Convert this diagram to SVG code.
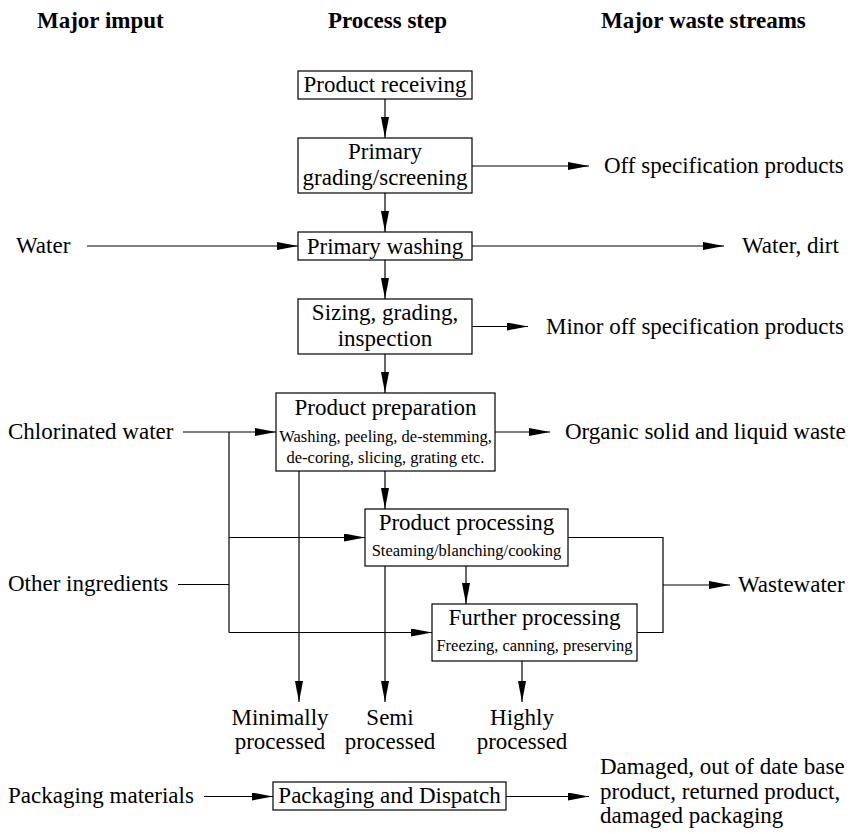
<svg xmlns="http://www.w3.org/2000/svg" width="853" height="834" viewBox="0 0 853 834">
  <defs>
    <style>
      .bg { fill: #ffffff; }
      .box { fill: #ffffff; stroke: #000000; stroke-width: 1.2; }
      .ln { fill: none; stroke: #000000; stroke-width: 1.2; }
      .ar { marker-end: url(#ah); }
      text { font-family: "Liberation Serif", "Times New Roman", serif; font-size: 23px; fill: #000000; }
      .c { text-anchor: middle; }
      .hd { font-weight: bold; }
      .sm { font-size: 16.5px; }
    </style>
    <marker id="ah" markerUnits="userSpaceOnUse" markerWidth="21" markerHeight="8" viewBox="0 0 21 8" refX="21" refY="4" orient="auto">
      <path d="M0,0 L21,4 L0,8 Z" fill="#000000"/>
    </marker>
  </defs>

  <rect class="bg" x="0" y="0" width="853" height="834"/>

  <!-- column headings -->
  <g id="headings">
    <text class="hd" x="37" y="28">Major imput</text>
    <text class="hd" x="328" y="28">Process step</text>
    <text class="hd" x="601" y="28">Major waste streams</text>
  </g>

  <!-- connectors -->
  <g id="connectors">
    <!-- main process chain -->
    <line class="ln ar" x1="385" y1="99" x2="385" y2="138"/>
    <line class="ln ar" x1="385" y1="193" x2="385" y2="232"/>
    <line class="ln ar" x1="385" y1="260" x2="385" y2="299"/>
    <line class="ln ar" x1="385" y1="354" x2="385" y2="393"/>
    <line class="ln ar" x1="385" y1="471" x2="385" y2="509"/>
    <line class="ln ar" x1="466" y1="566" x2="466" y2="604"/>

    <!-- waste outputs -->
    <line class="ln ar" x1="472" y1="166" x2="589" y2="166"/>
    <line class="ln ar" x1="472" y1="246" x2="724" y2="246"/>
    <line class="ln ar" x1="472" y1="326.5" x2="528" y2="326.5"/>
    <line class="ln ar" x1="495" y1="432" x2="550" y2="432"/>

    <!-- inputs -->
    <line class="ln ar" x1="87" y1="246" x2="298" y2="246"/>
    <line class="ln ar" x1="183" y1="432" x2="276" y2="432"/>
    <line class="ln" x1="229" y1="432" x2="229" y2="632.5"/>
    <line class="ln ar" x1="229" y1="537.5" x2="365" y2="537.5"/>
    <line class="ln" x1="178" y1="584.5" x2="229" y2="584.5"/>
    <line class="ln ar" x1="229" y1="632.5" x2="432" y2="632.5"/>

    <!-- product outlets -->
    <line class="ln ar" x1="299" y1="471" x2="299" y2="702"/>
    <line class="ln ar" x1="385" y1="566" x2="385" y2="702"/>
    <line class="ln ar" x1="522" y1="661" x2="522" y2="702"/>

    <!-- wastewater collector -->
    <polyline class="ln" points="568,537.5 663,537.5 663,632.5 637,632.5"/>
    <line class="ln ar" x1="663" y1="585" x2="730" y2="585"/>

    <!-- packaging row -->
    <line class="ln ar" x1="204" y1="796.5" x2="273" y2="796.5"/>
    <line class="ln ar" x1="506" y1="796.5" x2="589" y2="796.5"/>
  </g>

  <!-- process steps -->
  <g id="product-receiving">
    <rect class="box" x="298" y="71" width="174" height="28"/>
    <text class="c" x="385" y="92">Product receiving</text>
  </g>

  <g id="primary-grading">
    <rect class="box" x="298" y="138" width="174" height="55"/>
    <text class="c" x="385" y="158.5">Primary</text>
    <text class="c" x="385" y="185">grading/screening</text>
  </g>

  <g id="primary-washing">
    <rect class="box" x="298" y="232" width="174" height="28"/>
    <text class="c" x="385" y="253.5">Primary washing</text>
  </g>

  <g id="sizing-grading">
    <rect class="box" x="298" y="299" width="174" height="55"/>
    <text class="c" x="385" y="320">Sizing, grading,</text>
    <text class="c" x="385" y="346">inspection</text>
  </g>

  <g id="product-preparation">
    <rect class="box" x="276" y="393" width="219" height="78"/>
    <text class="c" x="385.5" y="415">Product preparation</text>
    <text class="c sm" x="385.5" y="441.5">Washing, peeling, de-stemming,</text>
    <text class="c sm" x="385.5" y="463">de-coring, slicing, grating etc.</text>
  </g>

  <g id="product-processing">
    <rect class="box" x="365" y="509" width="203" height="57"/>
    <text class="c" x="466.5" y="530">Product processing</text>
    <text class="c sm" x="466.5" y="555.5">Steaming/blanching/cooking</text>
  </g>

  <g id="further-processing">
    <rect class="box" x="432" y="604" width="205" height="57"/>
    <text class="c" x="534.5" y="625">Further processing</text>
    <text class="c sm" x="534.5" y="650.5">Freezing, canning, preserving</text>
  </g>

  <g id="packaging-dispatch">
    <rect class="box" x="273" y="782" width="233" height="28"/>
    <text class="c" x="389.5" y="802.5">Packaging and Dispatch</text>
  </g>

  <!-- inputs -->
  <g id="input-water"><text x="16" y="253">Water</text></g>
  <g id="input-chlorinated-water"><text x="8" y="439">Chlorinated water</text></g>
  <g id="input-other-ingredients"><text x="8" y="591">Other ingredients</text></g>
  <g id="input-packaging-materials"><text x="8" y="802.5">Packaging materials</text></g>

  <!-- waste streams -->
  <g id="waste-off-spec"><text x="604" y="173">Off specification products</text></g>
  <g id="waste-water-dirt"><text x="742" y="253">Water, dirt</text></g>
  <g id="waste-minor-off-spec"><text x="546" y="333.5">Minor off specification products</text></g>
  <g id="waste-organic"><text x="565" y="439">Organic solid and liquid waste</text></g>
  <g id="waste-wastewater"><text x="738" y="592">Wastewater</text></g>
  <g id="waste-packaging">
    <text x="600" y="774">Damaged, out of date base</text>
    <text x="600" y="799">product, returned product,</text>
    <text x="600" y="823">damaged packaging</text>
  </g>

  <!-- product categories -->
  <g id="out-minimally">
    <text class="c" x="280" y="725">Minimally</text>
    <text class="c" x="280" y="749">processed</text>
  </g>
  <g id="out-semi">
    <text class="c" x="390" y="725">Semi</text>
    <text class="c" x="390" y="749">processed</text>
  </g>
  <g id="out-highly">
    <text class="c" x="522" y="725">Highly</text>
    <text class="c" x="522" y="749">processed</text>
  </g>
</svg>
